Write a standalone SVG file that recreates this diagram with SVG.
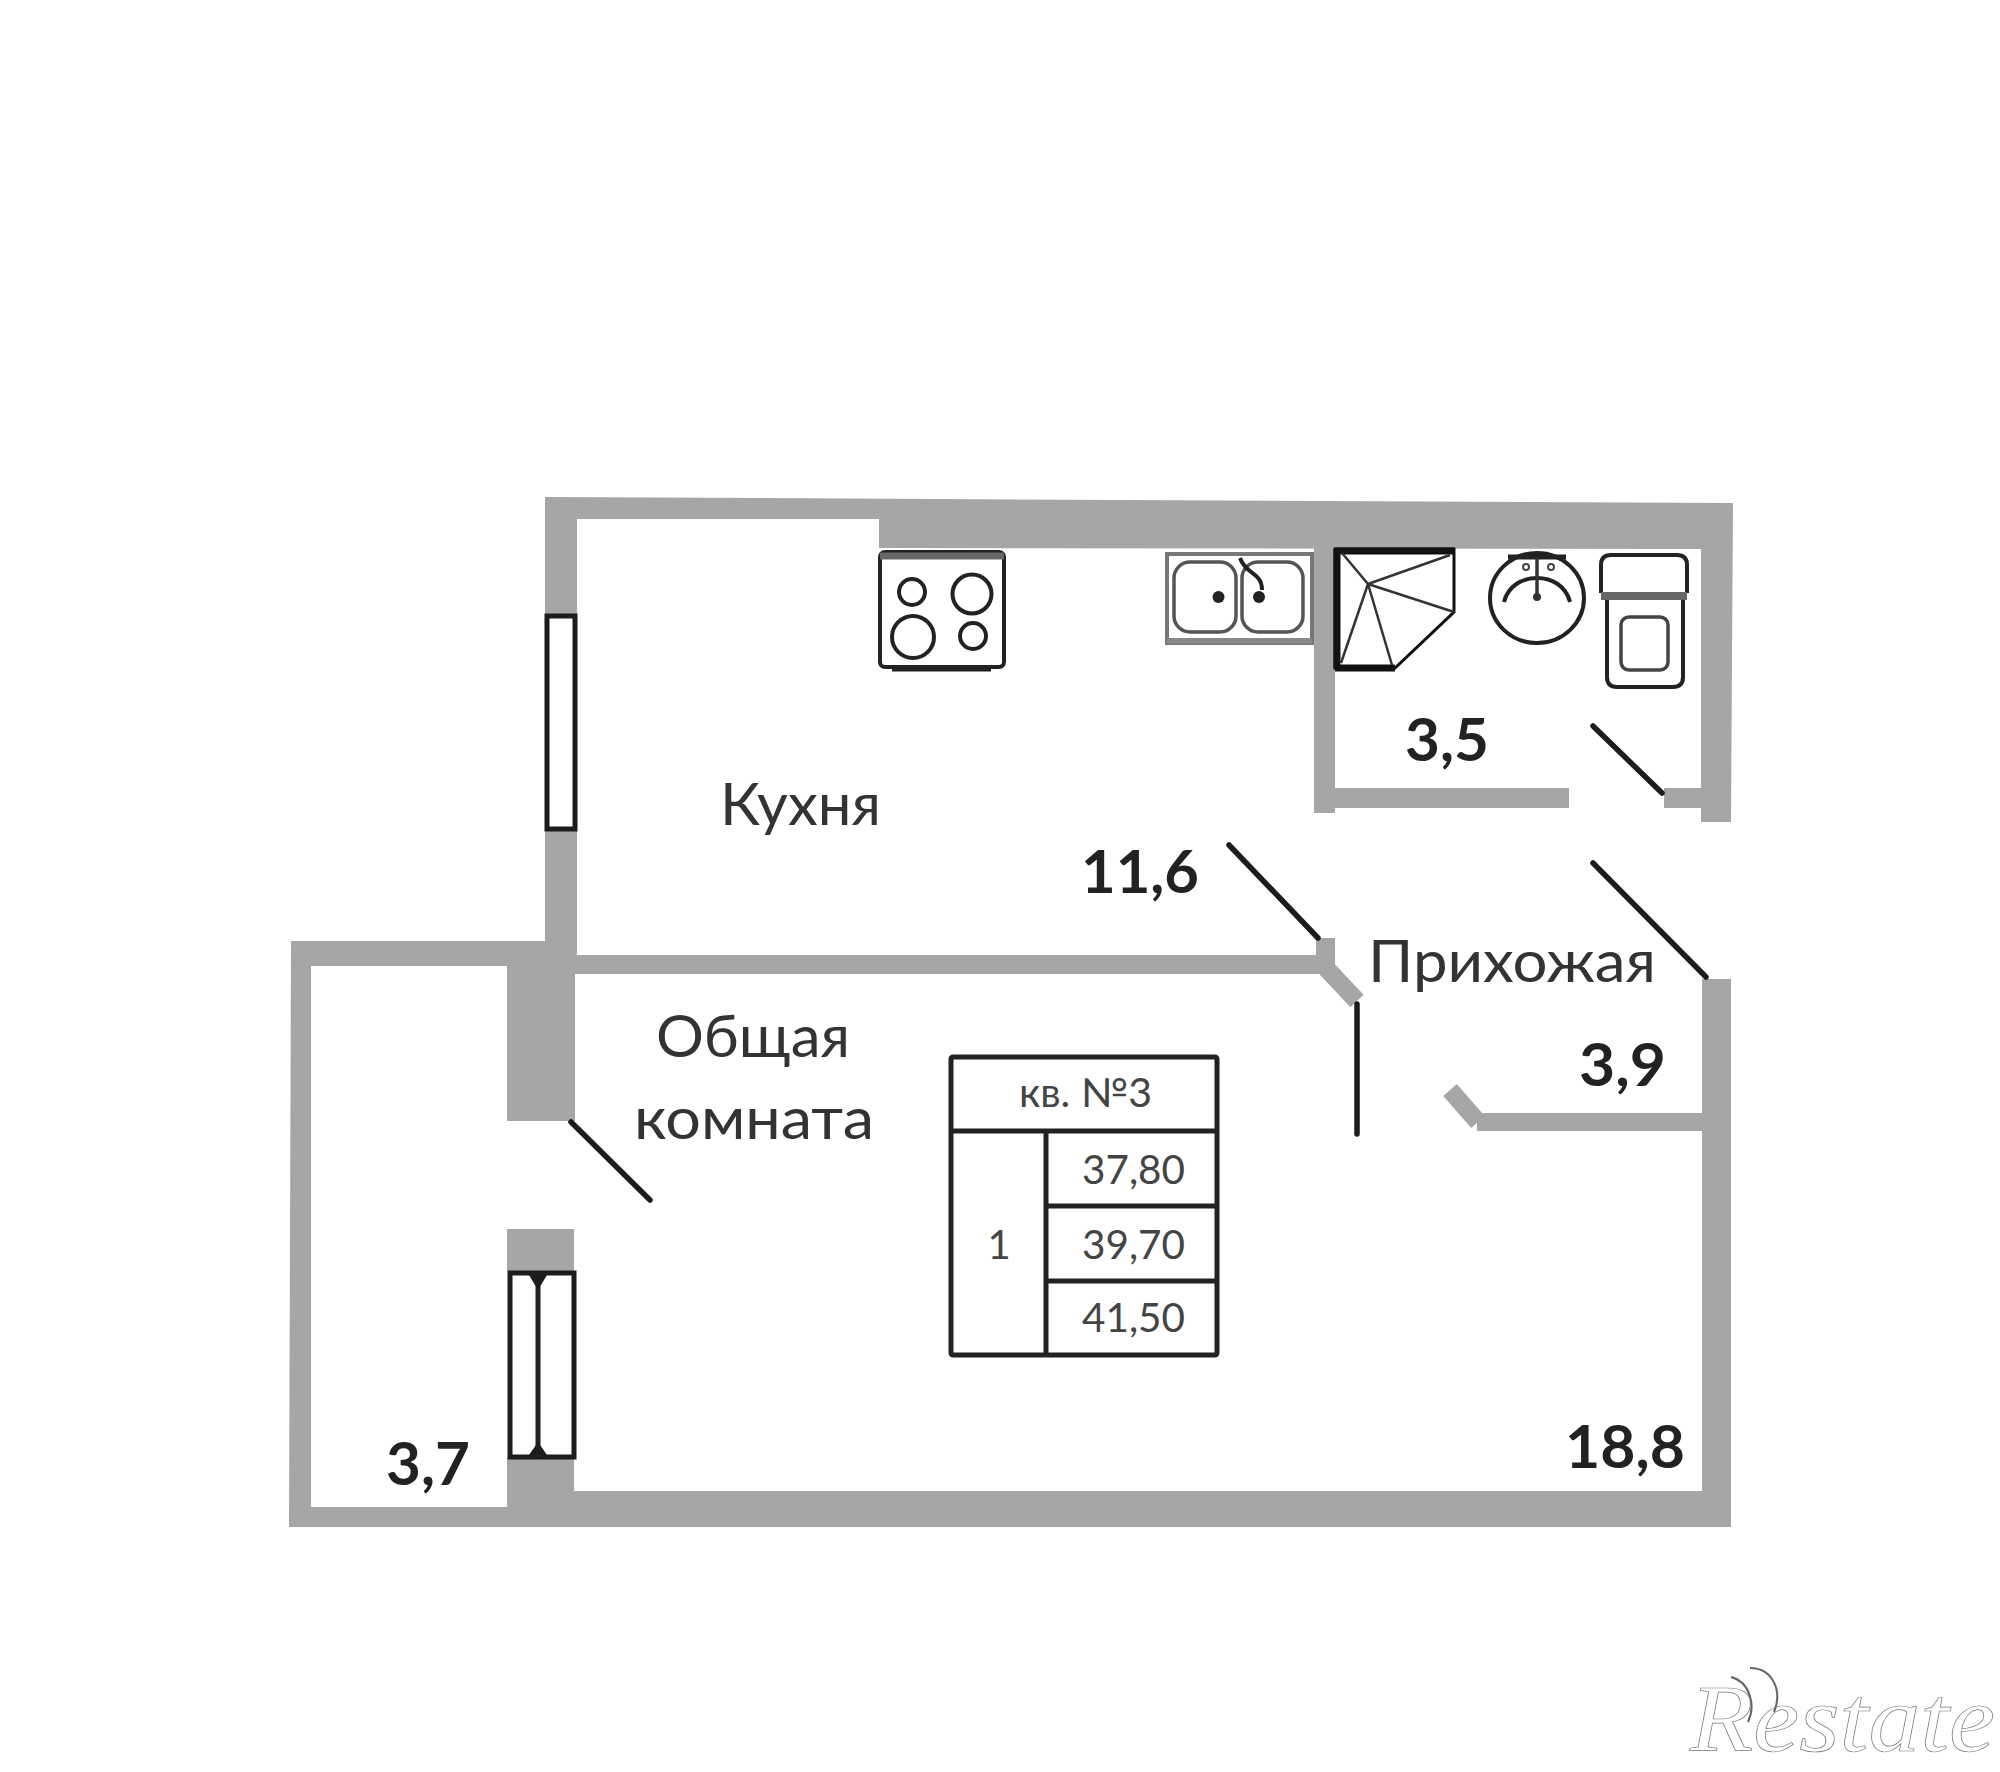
<svg xmlns="http://www.w3.org/2000/svg" width="2000" height="1772" viewBox="0 0 2000 1772">
<style>
.wall{fill:#a6a6a6;stroke:none}
.wl{fill:none;stroke:#a6a6a6;stroke-width:18}
.ink{fill:none;stroke:#222;stroke-width:4}
.door{fill:none;stroke:#1c1c1c;stroke-width:5.5;stroke-linecap:round}
.win{fill:#fff;stroke:#1c1c1c;stroke-width:5}
.t{font-family:Lato,"Open Sans","Liberation Sans",sans-serif;fill:#333;font-size:59px}
.n{font-family:Lato,"Open Sans","Liberation Sans",sans-serif;fill:#222;font-weight:700;font-size:60px}
.s{font-family:Lato,"Open Sans","Liberation Sans",sans-serif;fill:#444;font-size:40px}
.w{font-family:"Liberation Serif",serif;font-style:italic;fill:#fff;stroke:#777;stroke-width:.7}
</style>
<rect width="2000" height="1772" fill="#fff"/>
<g id="walls">
<path class="wall" d="M545,497L1733,503L1731,822L1701,822L1701,549L879,548L879,519L577,519L577,615L545,615Z"/>
<path class="wall" d="M1314,548H1335V788H1569V808H1335V813H1314Z"/>
<rect class="wall" x="1664" y="788" width="37" height="20"/>
<path class="wall" d="M291,941L545,941L545,830L577,830L577,955L1316,955L1316,938L1335,938L1335,974L575,974L575,1121L507,1121L507,966L311,966L311,1507L507,1507L507,1458L574,1458L574,1491L1702,1491L1702,979L1731,979L1731,1527L289,1527Z"/>
<rect class="wall" x="507" y="1229" width="67" height="42"/>
<rect class="wall" x="1477" y="1113" width="225" height="18"/>
<path class="wl" d="M1326,968L1357,1001"/>
<path class="wl" d="M1450,1090L1478,1122"/>
</g>
<g id="windows">
<rect class="win" x="547" y="616" width="28" height="213"/>
<rect class="win" x="510" y="1273" width="64" height="184"/>
<path class="ink" style="stroke-width:5" d="M538,1273V1457"/>
<path fill="#1c1c1c" d="M529,1275H547L538,1290ZM529,1455H547L538,1442Z"/>
</g>
<g id="doors">
<path class="door" d="M1593,726L1662,793"/>
<path class="door" d="M1229,845L1318,938"/>
<path class="door" d="M1593,863L1706,977"/>
<path class="door" d="M1357,1004V1134"/>
<path class="door" d="M571,1122L650,1200"/>
</g>
<g id="stove">
<rect class="ink" x="880" y="552" width="124" height="115" rx="5"/>
<path d="M880,556H1004" stroke="#666" stroke-width="7" fill="none"/>
<path d="M892,669H991" stroke="#222" stroke-width="5" fill="none"/>
<circle class="ink" cx="912" cy="592" r="13"/>
<circle class="ink" cx="972" cy="594" r="19.5"/>
<circle class="ink" cx="913" cy="637" r="21"/>
<circle class="ink" cx="973" cy="636" r="13"/>
</g>
<g id="sink">
<rect x="1167" y="554" width="145" height="89" fill="#fff" stroke="#777" stroke-width="4"/>
<path d="M1167,641H1312" stroke="#888" stroke-width="6" fill="none"/>
<rect x="1174" y="562" width="62" height="70" rx="16" fill="none" stroke="#555" stroke-width="3.5"/>
<rect x="1242" y="562" width="61" height="70" rx="16" fill="none" stroke="#555" stroke-width="3.5"/>
<circle cx="1218.500" cy="597" r="6" fill="#222"/>
<circle cx="1259" cy="597" r="6" fill="#222"/>
<path class="ink" d="M1240,558C1246,575 1262,572 1262,590"/>
</g>
<g id="shower">
<path fill="#fff" stroke="#111" stroke-width="3" d="M1335,549H1454V612L1395,668H1335Z"/>
<path d="M1337,549V668" stroke="#111" stroke-width="7" fill="none"/>
<path d="M1335,551H1454" stroke="#111" stroke-width="7" fill="none"/>
<path d="M1335,668H1395" stroke="#111" stroke-width="7" fill="none"/>
<path stroke="#333" stroke-width="2.500" fill="none" d="M1368,584L1342,553M1368,584L1450,555M1368,584L1454,612M1368,584L1392,665M1368,584L1341,663"/>
</g>
<g id="basin">
<ellipse class="ink" cx="1537" cy="598" rx="47" ry="45"/>
<path class="ink" d="M1504,602C1508,586 1522,578 1537,578C1552,578 1566,586 1570,602"/>
<path d="M1508,557H1566" stroke="#222" stroke-width="5" fill="none"/>
<path d="M1537,558V594" stroke="#333" stroke-width="3.500" fill="none"/>
<circle cx="1537" cy="597" r="4" fill="#333"/>
<circle cx="1526" cy="567" r="3" fill="none" stroke="#444" stroke-width="2"/>
<circle cx="1551" cy="567" r="3" fill="none" stroke="#444" stroke-width="2"/>
</g>
<g id="toilet">
<path class="ink" d="M1601,593V565Q1601,555 1611,555H1677Q1687,555 1687,565V593"/>
<path d="M1601,596H1687" stroke="#666" stroke-width="8" fill="none"/>
<path class="ink" d="M1607,600V677Q1607,687 1617,687H1673Q1683,687 1683,677V600"/>
<rect x="1621" y="617" width="47" height="53" rx="8" fill="none" stroke="#444" stroke-width="3.500"/>
</g>
<g id="table">
<rect x="951" y="1057" width="266" height="298" fill="#fff" stroke="#222" stroke-width="5" rx="2"/>
<path d="M951,1131H1217M1046,1131V1355M1046,1206H1217M1046,1281H1217" stroke="#222" stroke-width="5" fill="none"/>
<text class="s" x="1019" y="1107" textLength="133" lengthAdjust="spacingAndGlyphs">кв. №3</text>
<text class="s" x="999" y="1259" text-anchor="middle">1</text>
<text class="s" x="1082" y="1184" textLength="103" lengthAdjust="spacingAndGlyphs">37,80</text>
<text class="s" x="1082" y="1259" textLength="103" lengthAdjust="spacingAndGlyphs">39,70</text>
<text class="s" x="1082" y="1332" textLength="103" lengthAdjust="spacingAndGlyphs">41,50</text>
</g>
<g id="labels">
<text class="t" x="720" y="825" textLength="161" lengthAdjust="spacingAndGlyphs">Кухня</text>
<text class="t" x="656" y="1057" textLength="194" lengthAdjust="spacingAndGlyphs">Общая</text>
<text class="t" x="634" y="1139" textLength="240" lengthAdjust="spacingAndGlyphs">комната</text>
<text class="t" x="1368" y="982" textLength="288" lengthAdjust="spacingAndGlyphs">Прихожая</text>
<text class="n" x="1081" y="893" textLength="118" lengthAdjust="spacingAndGlyphs">11,6</text>
<text class="n" x="1405" y="761" textLength="84" lengthAdjust="spacingAndGlyphs">3,5</text>
<text class="n" x="1579" y="1086" textLength="87" lengthAdjust="spacingAndGlyphs">3,9</text>
<text class="n" x="386" y="1485" textLength="84" lengthAdjust="spacingAndGlyphs">3,7</text>
<text class="n" x="1565" y="1468" textLength="120" lengthAdjust="spacingAndGlyphs">18,8</text>
</g>
<g id="watermark">
<text class="w" x="1690" y="1751" font-size="96" textLength="305" lengthAdjust="spacingAndGlyphs">Restate</text>
<path d="M1731,1677C1750,1682 1756,1705 1748,1722M1750,1668C1772,1668 1783,1690 1774,1712" fill="none" stroke="#666" stroke-width="2"/>
</g>
</svg>
